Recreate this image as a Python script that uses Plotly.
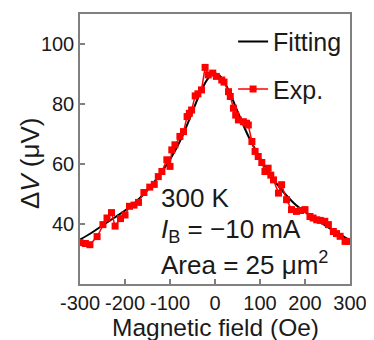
import plotly.graph_objects as go

# Experimental data (Oe, µV)
exp_field = [-300, -288, -278, -262, -249, -240, -230, -222, -210, -200, -190, -180, -170,
             -158, -145, -135, -126, -118, -107, -100, -96, -89, -78, -70, -62, -57, -52,
             -44, -38, -30, -22, -15, -5, 3, 15, 20, 30, 34, 41, 46, 52, 63, 70, 74, 82,
             89, 96, 104, 111, 118, 124, 130, 141, 148, 159, 170, 181, 190, 200, 211,
             218, 226, 234, 244, 252, 263, 270, 278, 289, 296]
exp_dv = [33.8, 33.5, 33.1, 35.8, 39.8, 42.0, 43.8, 39.3, 41.8, 43.0, 45.9, 46.3, 47.2,
          50.5, 52.3, 53.2, 55.8, 57.5, 61.4, 59.2, 64.7, 66.4, 69.2, 70.8, 75.8, 76.9, 78.0,
          82.7, 83.4, 84.7, 92.2, 89.7, 90.3, 89.2, 88.0, 87.3, 84.1, 82.5, 78.6, 76.3, 74.7,
          74.1, 73.6, 73.0, 67.5, 64.2, 62.5, 60.5, 57.5, 58.6, 56.3, 54.7, 50.3, 53.1, 48.1,
          44.8, 44.2, 44.5, 44.8, 42.5, 42.0, 41.4, 41.2, 40.9, 39.8, 37.5, 36.8, 35.9, 34.2,
          34.2]

# Fitting curve samples (Oe, µV)
fit_field = [-300, -275, -250, -225, -200, -175, -150, -125, -100, -75, -50, -35, -20, -10,
             0, 10, 20, 35, 50, 75, 100, 125, 150, 175, 200, 225, 250, 275, 300]
fit_dv = [34.8, 37.0, 39.5, 42.0, 44.5, 47.5, 51.3, 56.0, 61.5, 68.5, 77.5, 83.0, 87.5, 89.5,
          90.2, 89.5, 87.5, 83.0, 77.5, 69.0, 62.0, 56.0, 51.0, 47.0, 44.0, 41.5, 39.0, 36.8,
          34.5]

x_ticks = [-300, -200, -100, 0, 100, 200, 300]
x_ticktext = ["-300", "-200", "-100", "0", "100", "200", "300"]
y_ticks = [40, 60, 80, 100]

FONT = "Liberation Sans, Arial, sans-serif"
TXT = "#1a1a1a"

fig = go.Figure()
fig.add_trace(go.Scatter(
    x=fit_field, y=fit_dv, mode="lines", name="Fitting",
    line=dict(color="black", width=2, shape="spline"),
    legendgroup="a"))
fig.add_trace(go.Scatter(
    x=exp_field, y=exp_dv, mode="lines+markers", name="Exp.",
    line=dict(color="#ff0000", width=1.5),
    marker=dict(symbol="square", size=7, color="#ff0000"),
    legendgroup="b"))

axis_common = dict(
    showline=True, linecolor="#808080", linewidth=1.5, mirror=True,
    ticks="inside", ticklen=5, tickcolor="#808080", tickwidth=1.5,
    showgrid=False, zeroline=False, automargin=False, tickangle=0,
    tickfont=dict(family=FONT, size=20, color=TXT),
)

# page body has an 8px margin; figure sized so it fits the 374x340 window
fig.update_layout(
    width=366, height=332,
    margin=dict(l=72, r=24, t=6, b=56),
    plot_bgcolor="white", paper_bgcolor="white",
    showlegend=True,
    legend=dict(x=0.567, y=0.982, xanchor="left", yanchor="top",
                bgcolor="rgba(0,0,0,0)", font=dict(family=FONT, size=25, color=TXT),
                tracegroupgap=12, itemwidth=30),
    xaxis=dict(range=[-300, 300], tickvals=x_ticks, ticktext=x_ticktext, **axis_common),
    yaxis=dict(range=[20, 110], tickvals=y_ticks, **axis_common),
    annotations=[
        dict(x=0.5, y=-0.218, xref="paper", yref="paper", xanchor="center", yanchor="bottom",
             showarrow=False, text="Magnetic field (Oe)",
             font=dict(family=FONT, size=24.5, color=TXT)),
        dict(x=-0.185, y=0.448, xref="paper", yref="paper", xanchor="center", yanchor="middle",
             showarrow=False, textangle=-90, text="Δ<i>V</i> (μV)",
             font=dict(family=FONT, size=26, color=TXT)),
        dict(x=0.292, y=0.318, xref="paper", yref="paper", xanchor="left", yanchor="middle",
             showarrow=False, text="300 K", font=dict(family=FONT, size=26, color=TXT)),
        dict(x=0.292, y=0.20, xref="paper", yref="paper", xanchor="left", yanchor="middle",
             showarrow=False, text="<i>I</i><sub>B</sub> = −10 mA",
             font=dict(family=FONT, size=26, color=TXT)),
        dict(x=0.292, y=0.075, xref="paper", yref="paper", xanchor="left", yanchor="middle",
             showarrow=False, text="Area = 25 μm<sup>2</sup>",
             font=dict(family=FONT, size=26, color=TXT)),
    ],
)

fig.write_html("out.html")
